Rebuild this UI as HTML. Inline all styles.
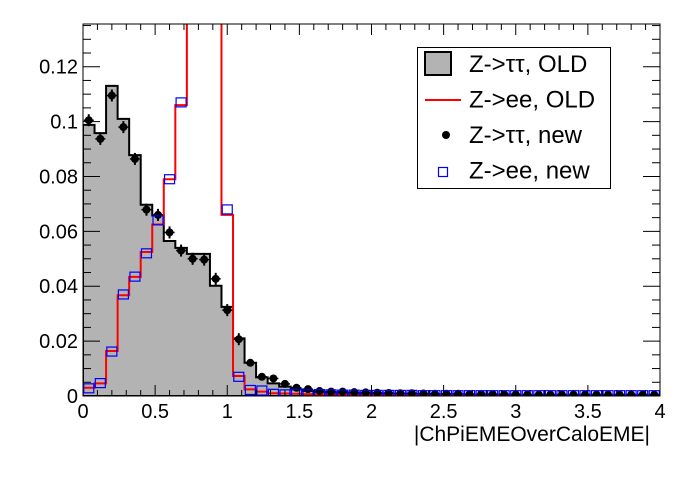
<!DOCTYPE html>
<html><head><meta charset="utf-8"><style>
html,body{margin:0;padding:0;background:#fff;}
svg text{font-family:"Liberation Sans",sans-serif;}
</style></head><body>
<svg id="s" width="696" height="472" xmlns="http://www.w3.org/2000/svg"></svg>
<script>
const X0=83,X1=660,Y0=396,YT=24,K=2744,N=50;
const bx=i=>X0+i*(X1-X0)/N, vy=v=>Y0-v*K;
function pad(a,v){while(a.length<N)a.push(v);return a;}
let g=pad([0.0988,0.0958,0.113,0.101,0.0878,0.0697,0.0658,0.0565,0.054,0.0518,0.0518,0.0402,0.0325,0.021,0.0121,0.0068,0.0046,0.0034,0.0024,0.0018,0.0015,0.0013,0.0012,0.0011,0.001,0.0009,0.0008,0.0008,0.0007,0.0007,0.0006,0.0006,0.0006,0.0005,0.0005,0.0005,0.0005,0.0004,0.0004,0.0004],0.0004);
let p=pad([0.1005,0.0937,0.1095,0.098,0.0864,0.0679,0.066,0.0596,0.053,0.05,0.0497,0.0427,0.0313,0.0207,0.0121,0.007,0.0064,0.0044,0.003,0.0025,0.0018,0.0016,0.0016,0.0014,0.0013,0.0012,0.0011,0.001,0.001,0.0009,0.0008,0.0008,0.0008,0.0007,0.0007,0.0007,0.0006,0.0006,0.0005,0.0005],0.0005);
let r=pad([0.003,0.0046,0.0164,0.0367,0.0434,0.0525,0.0625,0.079,0.106,0.5,0.5,0.5,0.066,0.0073,0.0024,0.0016,0.001,0.0009,0.0008,0.0007,0.0006,0.0006,0.0005,0.0005,0.0004,0.0004,0.0004,0.0004,0.0003],0.0003);
let b=pad([0.0028,0.0047,0.0162,0.037,0.0435,0.052,0.064,0.079,0.107,null,null,null,0.068,0.007,0.0022,0.002,0.0008,0.0006,0.0008,0.0006,0.0007,0.0006,0.0005,0.0005,0.0004,0.0004,0.0004,0.0004,0.0004,0.0003],0.0003);
let s='<defs><clipPath id="c"><rect x="'+X0+'" y="'+YT+'" width="'+(X1-X0)+'" height="'+(Y0-YT)+'"/></clipPath></defs>';
function step(a){let d='M'+X0+','+Y0;for(let i=0;i<N;i++){d+=' L'+bx(i)+','+vy(a[i])+' L'+bx(i+1)+','+vy(a[i]);}return d+' L'+X1+','+Y0;}
s+='<g clip-path="url(#c)">';
s+='<path d="'+step(g)+' Z" fill="#b3b3b3" stroke="#000" stroke-width="2"/>';
s+='<path d="'+step(r)+'" fill="none" stroke="#f00" stroke-width="2"/>';
for(let i=0;i<N;i++){let cx=(bx(i)+bx(i+1))/2,cy=vy(p[i]),e=i<14?6:2;
s+='<line x1="'+cx+'" y1="'+(cy-e)+'" x2="'+cx+'" y2="'+(cy+e)+'" stroke="#000" stroke-width="2"/><line x1="'+(cx-5)+'" y1="'+cy+'" x2="'+(cx+5)+'" y2="'+cy+'" stroke="#000" stroke-width="1.5"/><circle cx="'+cx+'" cy="'+cy+'" r="4" fill="#000"/>';
if(b[i]!=null){let y=vy(b[i]);s+='<rect x="'+(cx-5)+'" y="'+(y-4.5)+'" width="10" height="9" fill="none" stroke="#00f" stroke-width="1.2"/>';}}
s+='</g>';
s+='<rect x="'+X0+'" y="'+YT+'" width="'+(X1-X0)+'" height="'+(Y0-YT)+'" fill="none" stroke="#000" stroke-width="1"/>';
for(let i=0;i<=40;i++){let x=X0+i*(X1-X0)/40,L=i%5==0?11:6;s+='<line x1="'+x+'" y1="'+Y0+'" x2="'+x+'" y2="'+(Y0-L)+'" stroke="#000"/><line x1="'+x+'" y1="'+YT+'" x2="'+x+'" y2="'+(YT+L)+'" stroke="#000"/>';
if(i%5==0){s+='<text x="'+x+'" y="418" font-size="20" text-anchor="middle">'+(i/10)+'</text>';}}
for(let j=0;j<=27;j++){let v=j*0.005,y=vy(v);if(y<YT)break;let L=j%4==0?17:8;s+='<line x1="'+X0+'" y1="'+y+'" x2="'+(X0+L)+'" y2="'+y+'" stroke="#000"/><line x1="'+X1+'" y1="'+y+'" x2="'+(X1-L)+'" y2="'+y+'" stroke="#000"/>';
if(j%4==0){let t=j==0?'0':(+(v).toFixed(2)).toString();s+='<text x="78" y="'+(y+7)+'" font-size="20" text-anchor="end">'+t+'</text>';}}
s+='<text x="650" y="441" font-size="21" text-anchor="end">|ChPiEMEOverCaloEME|</text>';
s+='<rect x="417.5" y="47.5" width="193" height="141" fill="#fff" stroke="#000"/>';
s+='<rect x="425" y="52" width="26" height="23" fill="#b3b3b3" stroke="#000" stroke-width="2"/>';
s+='<line x1="425" y1="100" x2="461" y2="100" stroke="#f00" stroke-width="2"/>';
s+='<circle cx="446" cy="135" r="4" fill="#000"/>';
s+='<rect x="438.5" y="167.5" width="9" height="9" fill="none" stroke="#00f" stroke-width="1.2"/>';
['Z->ττ, OLD','Z->ee, OLD','Z->ττ, new','Z->ee, new'].forEach((t,k)=>{s+='<text x="469" y="'+(72+k*35.5)+'" font-size="24">'+t+'</text>';});
document.getElementById('s').innerHTML=s;
</script>
</body></html>
